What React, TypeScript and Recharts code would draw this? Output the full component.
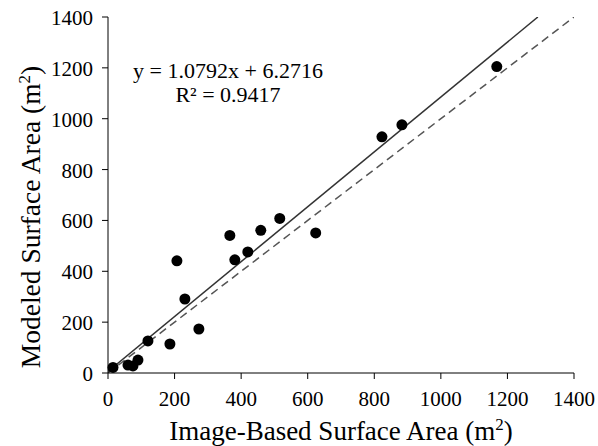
import { ScatterChart, Scatter, XAxis, YAxis, ReferenceLine } from 'recharts';

// image-based vs modeled surface area (m2)
const imageBased = [15, 60, 75, 90, 120, 186, 207, 231, 273, 366, 381, 420, 459, 516, 624, 823, 883, 1168];
const modeled = [22, 31, 28, 51, 126, 114, 441, 291, 173, 541, 445, 476, 561, 608, 551, 929, 976, 1205];

const slope = 1.0792;
const intercept = 6.2716;
const r2 = 0.9417;

const xTicks = [0, 200, 400, 600, 800, 1000, 1200, 1400];
const yTicks = [0, 200, 400, 600, 800, 1000, 1200, 1400];
const axisMax = 1400;

const points = imageBased.map((x, i) => ({ x, y: modeled[i] }));

// fitted line stops where it reaches the top of the plot
const fitEndX = (axisMax - intercept) / slope;

const font = "'Liberation Serif', 'Times New Roman', serif";

const XTick = (p: any) => (
  <text x={p.x} y={p.y + 25} textAnchor="middle" style={{ fontFamily: font }} fontSize={21} fill="#000">
    {p.payload.value}
  </text>
);

const YTick = (p: any) => (
  <text x={p.x - 7} y={p.y + 8} textAnchor="end" style={{ fontFamily: font }} fontSize={21} fill="#000">
    {p.payload.value}
  </text>
);

const XTitle = (props: any) => {
  const vb = props.viewBox;
  const cx = vb.x + vb.width / 2;
  return (
    <text x={cx} y={vb.y + 67} textAnchor="middle" style={{ fontFamily: font }} fontSize={27} fill="#000">
      Image-Based Surface Area (m<tspan dy={-10} fontSize={17}>2</tspan><tspan dy={10}>)</tspan>
    </text>
  );
};

const YTitle = (props: any) => {
  const vb = props.viewBox;
  const cx = 40;
  const cy = vb.y + vb.height / 2 + 22;
  return (
    <text
      x={cx}
      y={cy}
      textAnchor="middle"
      style={{ fontFamily: font }}
      fontSize={27.5}
      fill="#000"
      transform={`rotate(-90 ${cx} ${cy})`}
    >
      Modeled Surface Area (m<tspan dy={-10} fontSize={17}>2</tspan><tspan dy={10}>)</tspan>
    </text>
  );
};

export default function App() {
  return (
    <div style={{ position: 'absolute', left: 0, top: 0, width: 598, height: 446, background: '#fff', fontFamily: font }}>
      <style>{`svg text { font-family: 'Liberation Serif', 'Times New Roman', serif !important; }`}</style>
      <ScatterChart width={598} height={446} margin={{ top: 17, right: 24, bottom: 0, left: 0 }} style={{ fontFamily: font }}>
        <XAxis
          type="number"
          dataKey="x"
          domain={[0, axisMax]}
          ticks={xTicks}
          interval={0}
          height={73}
          stroke="#000"
          tickLine={{ stroke: '#000' }}
          tickSize={6}
          tick={XTick}
          label={{ content: XTitle }}
        />
        <YAxis
          type="number"
          dataKey="y"
          domain={[0, axisMax]}
          ticks={yTicks}
          interval={0}
          width={108}
          stroke="#000"
          tickLine={{ stroke: '#000' }}
          tickSize={6}
          tick={YTick}
          label={{ content: YTitle }}
        />
        <ReferenceLine
          segment={[{ x: 0, y: 0 }, { x: axisMax, y: axisMax }]}
          stroke="#555"
          strokeWidth={1.5}
          strokeDasharray="8 5"
          ifOverflow="hidden"
        />
        <ReferenceLine
          segment={[{ x: 0, y: intercept }, { x: fitEndX, y: axisMax }]}
          stroke="#333"
          strokeWidth={1.5}
          ifOverflow="hidden"
        />
        <Scatter data={points} fill="#000" isAnimationActive={false} shape={(p: any) => <circle cx={p.cx} cy={p.cy} r={5.5} fill="#000" />} />
      </ScatterChart>
      <div
        style={{
          position: 'absolute',
          left: 128,
          top: 59,
          width: 200,
          textAlign: 'center',
          fontSize: 22,
          lineHeight: '24px',
          color: '#000',
        }}
      >
        <div>y = {slope.toFixed(4)}x + {intercept.toFixed(4)}</div>
        <div>R² = {r2.toFixed(4)}</div>
      </div>
    </div>
  );
}
